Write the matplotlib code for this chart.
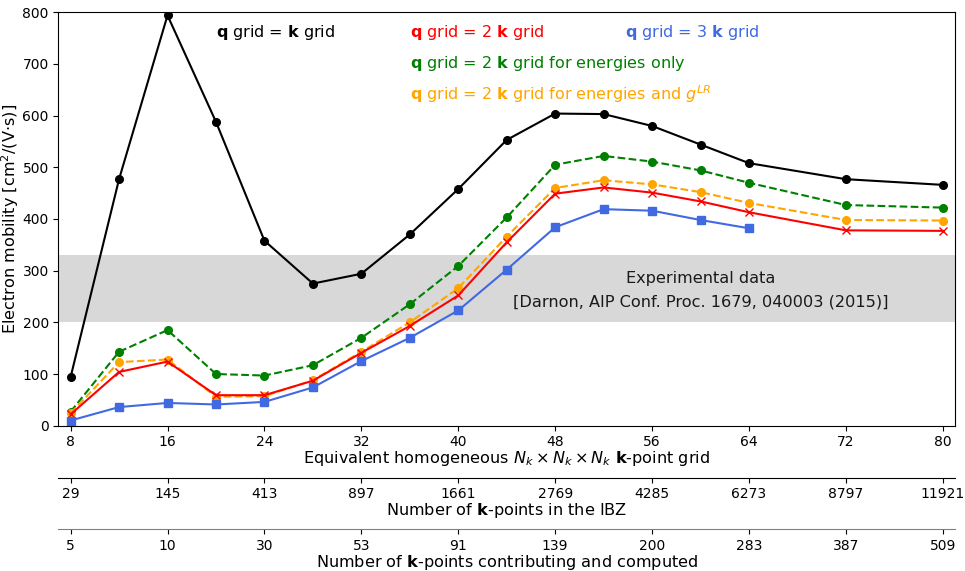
from matplotlib import pyplot as pl

# Equivalent homogeneous Nk grid
nk = [8, 12, 16, 20, 24, 28, 32, 36, 40, 44, 48, 52, 56, 60, 64, 72, 80]
nk_blue = nk[:15]

# Electron mobility [cm^2/(V s)]
mu_q1 = [94, 477, 794, 588, 358, 275, 294, 370, 458, 553, 604, 603, 580, 544, 508, 477, 466]
mu_q2 = [22, 104, 124, 59, 59, 87, 141, 193, 252, 355, 449, 461, 451, 434, 413, 378, 377]
mu_q3 = [10, 36, 44, 41, 46, 74, 125, 170, 223, 302, 384, 419, 416, 398, 382]
mu_q2_en = [27, 143, 185, 100, 97, 117, 170, 235, 309, 403, 505, 522, 511, 494, 470, 427, 422]
mu_q2_en_glr = [24, 123, 128, 56, 57, 88, 143, 200, 266, 366, 460, 475, 467, 452, 431, 398, 397]

# Secondary axes tick labels
ticks = [8, 16, 24, 32, 40, 48, 56, 64, 72, 80]
nibz = ['29', '145', '413', '897', '1661', '2769', '4285', '6273', '8797', '11921']
ncontrib = ['5', '10', '30', '53', '91', '139', '200', '283', '387', '509']

# Experimental range
exp_low, exp_high = 200, 330

fig, ax = pl.subplots(figsize=(9.65, 5.71), dpi=100)
fig.subplots_adjust(left=0.0606, right=0.9896, top=0.9785, bottom=0.2545)

lfs = 11.6  # axis label / annotation size

ax.axhspan(exp_low, exp_high, color='gray', alpha=0.3, lw=0)
ax.text(60, 285.7, 'Experimental data', ha='center', va='center', fontsize=lfs, color='#1a1a1a')
ax.text(60, 239.8, '[Darnon, AIP Conf. Proc. 1679, 040003 (2015)]',
        ha='center', va='center', fontsize=lfs, color='#1a1a1a')

ms = 5.5
ax.plot(nk, mu_q1, color='black', marker='o', ms=ms)
ax.plot(nk, mu_q2_en, color='green', marker='o', ms=ms, linestyle='--')
ax.plot(nk, mu_q2_en_glr, color='orange', marker='o', ms=ms, linestyle='--')
ax.plot(nk, mu_q2, color='red', marker='x', ms=ms)
ax.plot(nk_blue, mu_q3, color='royalblue', marker='s', ms=ms)

fs = 11.5
ax.text(20, 761, r'$\mathbf{q}$ grid = $\mathbf{k}$ grid', color='black', fontsize=fs, va='center')
ax.text(36, 761, r'$\mathbf{q}$ grid = 2 $\mathbf{k}$ grid', color='red', fontsize=fs, va='center')
ax.text(53.8, 761, r'$\mathbf{q}$ grid = 3 $\mathbf{k}$ grid', color='royalblue', fontsize=fs, va='center')
ax.text(36, 701, r'$\mathbf{q}$ grid = 2 $\mathbf{k}$ grid for energies only', color='green',
        fontsize=fs, va='center')
ax.text(36, 641, r'$\mathbf{q}$ grid = 2 $\mathbf{k}$ grid for energies and $g^{LR}$',
        color='orange', fontsize=fs, va='center')

ax.set_xlim(7, 81)
ax.set_ylim(0, 800)
ax.set_xticks(ticks)
ax.set_ylabel(r'Electron mobility [cm$^2$/(V$\cdot$s)]', fontsize=lfs, labelpad=1)
ax.set_xlabel(r'Equivalent homogeneous $N_k \times N_k \times N_k$ $\mathbf{k}$-point grid',
              fontsize=lfs, labelpad=0)
ax.tick_params(labelsize=10)

# Extra x axes below the main one
for offset, labels, name, col in [(-0.126, nibz, r'Number of $\mathbf{k}$-points in the IBZ', 'black'),
                                  (-0.25, ncontrib, r'Number of $\mathbf{k}$-points contributing and computed', 'gray')]:
    ax2 = ax.twiny()
    ax2.set_xlim(ax.get_xlim())
    ax2.xaxis.set_ticks_position('bottom')
    ax2.xaxis.set_label_position('bottom')
    ax2.spines['bottom'].set_position(('axes', offset))
    ax2.spines['bottom'].set_color(col)
    for s in ['top', 'left', 'right']:
        ax2.spines[s].set_visible(False)
    ax2.set_xticks(ticks)
    ax2.set_xticklabels(labels)
    ax2.tick_params(labelsize=10)
    ax2.set_xlabel(name, fontsize=lfs, labelpad=0)

pl.savefig('out.png', dpi=100)
